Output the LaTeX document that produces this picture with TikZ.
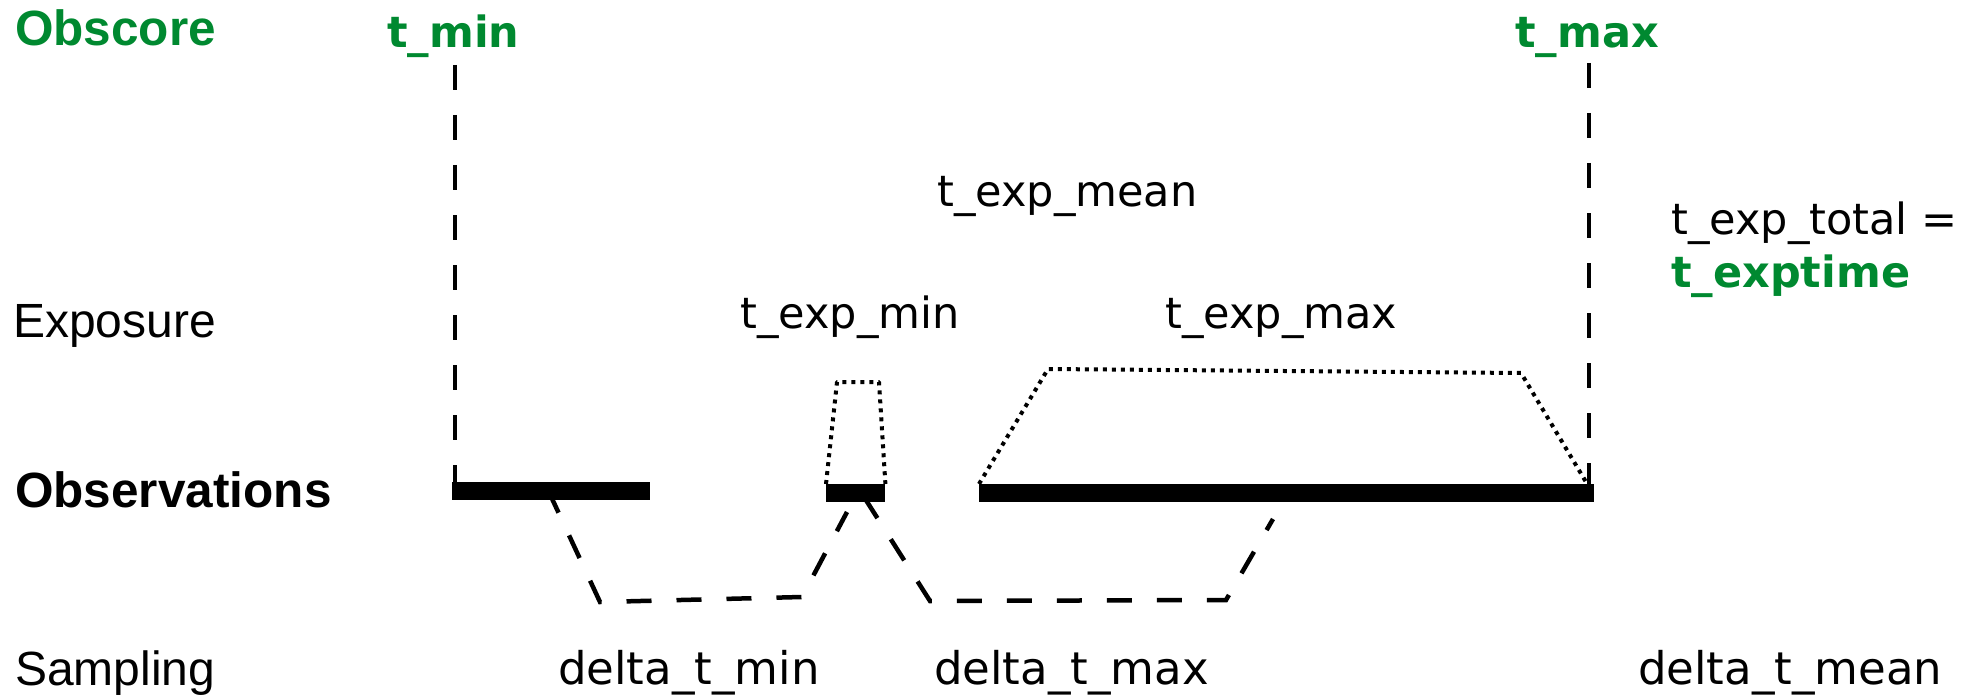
\documentclass[tikz,border=0pt]{standalone}
\usepackage{fontspec}
\setmainfont{Liberation Sans}
\newfontfamily\lblfont{DejaVu Sans}
\definecolor{obsgreen}{RGB}{0,137,48}
\begin{document}
\begin{tikzpicture}[x=1pt,y=-1pt,
  rowlabel/.style={anchor=base west,inner sep=0pt,font=\fontsize{48}{56}\selectfont},
  boldrow/.style={anchor=base west,inner sep=0pt,font=\bfseries\fontsize{49.5}{58}\selectfont},
  timelabel/.style={anchor=base west,inner sep=0pt,font=\lblfont\fontsize{43}{50}\selectfont},
  gaplabel/.style={anchor=base west,inner sep=0pt,font=\lblfont\fontsize{45}{52}\selectfont},
  keylabel/.style={anchor=base west,inner sep=0pt,font=\lblfont\bfseries\fontsize{43}{50}\selectfont,text=obsgreen},
  obsbar/.style={fill=black,draw=none,inner sep=0pt,minimum height=18pt,anchor=north west},
  boundary/.style={line width=4pt,dash pattern=on 25pt off 25pt},
  sampling/.style={line width=4.5pt,dash pattern=on 25pt off 25pt},
  exposure/.style={line width=4pt,dash pattern=on 4pt off 5pt,line join=round}]
\useasboundingbox (0,0) rectangle (1988,695);

% row labels
\node[boldrow,text=obsgreen] (obscore) at (15,46) {Obscore};
\node[rowlabel] (exposure) at (13,337) {Exposure};
\node[boldrow] (observations) at (15,507) {Observations};
\node[rowlabel] (sampling) at (15,685) {Sampling};

% time labels
\node[keylabel] (tmin) at (387,48) {t\_min};
\node[keylabel] (tmax) at (1515,48) {t\_max};
\node[timelabel] (texpmean) at (937,207) {t\_exp\_mean};
\node[timelabel] (texpmin) at (740,328) {t\_exp\_min};
\node[timelabel] (texpmax) at (1165,328) {t\_exp\_max};
\node[timelabel] (texptotal) at (1671,234) {t\_exp\_total =};
\node[keylabel] (texptime) at (1671,287) {t\_exptime};
\node[gaplabel] (dtmin) at (558,684) {delta\_t\_min};
\node[gaplabel] (dtmax) at (934,684) {delta\_t\_max};
\node[gaplabel] (dtmean) at (1638,684) {delta\_t\_mean};

% observation bars
\node[obsbar,minimum width=198pt] (bar1) at (452,482) {};
\node[obsbar,minimum width=59pt] (bar2) at (826,484) {};
\node[obsbar,minimum width=615pt] (bar3) at (979,484) {};

% boundaries t_min / t_max
\coordinate (tminTop) at (455,65);
\coordinate (tmaxTop) at (1589,63);
\draw[boundary] (tminTop) -- (tminTop |- bar1.north);
\draw[boundary] (tmaxTop) -- (tmaxTop |- bar3.north);

% exposure outlines
\coordinate (e1a) at (837,382);
\coordinate (e1b) at (879,382);
\coordinate (e2a) at (1048,369);
\coordinate (e2b) at (1521,373);
\draw[exposure] (bar2.north west) -- (e1a) -- (e1b) -- (bar2.north east);
\draw[exposure] (bar3.north west) -- (e2a) -- (e2b) -- (1586,482);

% sampling gaps
\coordinate (s1a) at (548,490);
\coordinate (s1b) at (600,602);
\coordinate (s1c) at (802,597);
\coordinate (s1d) at (847,512);
\coordinate (s2a) at (864,497);
\coordinate (s2b) at (930,601);
\coordinate (s2c) at (1226,600);
\coordinate (s2d) at (1273,519);
\draw[sampling] (s1a) -- (s1b) -- (s1c) -- (s1d);
\draw[sampling] (s2a) -- (s2b) -- (s2c) -- (s2d);
\end{tikzpicture}
\end{document}
